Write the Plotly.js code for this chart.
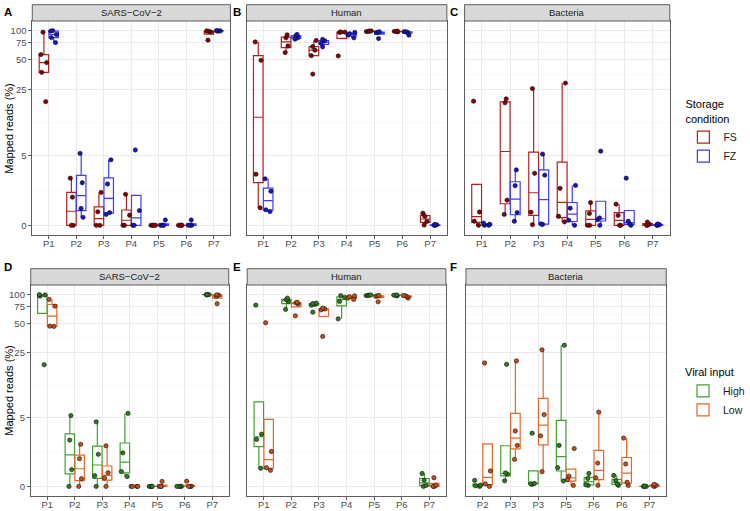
<!DOCTYPE html>
<html><head><meta charset="utf-8">
<script src="https://cdn.plot.ly/plotly-3.0.1.min.js"></script>
<style>html,body{margin:0;padding:0;background:#fff}#chart{width:750px;height:511px}</style>
</head><body><div id="chart"></div>
<script>
// ---- data (values in % mapped reads) ----
const categories = ["P1","P2","P3","P4","P5","P6","P7"];
const bacteriaViralLabels = ["P2","P3","P3","P5","P6","P6","P7"];
const yTickValues = [0,5,25,50,75,100];
const yTickLabels = ["0","5","25","50","75","100"];
const panelTitles = ["SARS\u2212CoV\u22122","Human","Bacteria","SARS\u2212CoV\u22122","Human","Bacteria"];
const panelLetters = ["A","B","C","D","E","F"];

// Storage condition (top row)
const sarsFS = [[18.6,37.3,47,56.8,96.6],[0,0,1.43,2.72],[0,0,0.65,1.72],[0,0,0.48,1.6],[0,0,0,0],[0,0,0,0],[80,97,98.5,99.5]];
const sarsFZ = [[75.5,85,91.4,99,100],[0.38,0.82,2.37,5.3],[0.52,0.61,2.28,4.5],[0,0,0.71,5.77],[0,0,0,0.25],[0,0,0,0.25],[99,99.5,99.8,100]];
const humanFS = [[0.85,3.05,49.6,76.7],[59.6,69.8,84.5,90.6],[35.8,55.4,63,68.7,79.3],[55,96,96.5,97],[98,98.5,99,99.5],[97.5,98,98.5,99],[0.01,0.18,0.42,0.58]];
const humanFZ = [[0.66,0.75,1.79,2.67],[81.9,84.5,88.6,91.5],[68.1,73.9,78.7,81.2],[84.5,90,93,96],[83,95.5,96.6,97.5],[90,96,97,98],[0,0,0.02,0.04]];
const bactFS = [[0,0.19,0.64,18.8],[0.52,1.26,18.1,19.9],[0.03,0.63,3.13,25.4],[0.16,0.43,1.98,28.9],[0,0,0.56,1.13],[0,0,0.47,1.04],[0,0,0.05,0.15]];
const bactFZ = [[0,0,0.05,0.1],[0.19,0.61,2.16,3.44],[0.04,0.06,2.97,5.2],[0,0.24,0.83,2.18],[0,0.27,0.35,5.6],[0,0.06,0.19,2.72],[0,0,0.03,0.06]];

// Viral input (bottom row)
const sarsHigh = [[18.5,96.3,99,100],[0,0.83,2.71,5.3],[0,0.52,1.7,4.5],[0.48,0.73,1.79,5.6],[0,0,0,0],[0,0,0,0],[99.5,99.7,99.9,100]];
const sarsLow = [[46.5,46.8,75.7,88.9],[0,0.37,1.43,2.38],[0,0.4,0.67,2.27],[0,0,0,0],[0,0,0,0.24],[0,0,0,0.25],[80.3,96,98.5,99.5]];
const humanHigh = [[0.9,2.77,3.22,77.6],[70,84.5,88.5,91.8],[65.5,77.5,79,80.6,81.4],[55.9,84.8,93.5,97.3],[97.5,98,98.5,99],[97,98,98.5,99],[0,0.05,0.3,0.63]];
const humanLow = [[0.79,0.93,1.88,50.8],[60,79.8,82,83],[36.6,69.3,70.7,72.1],[89,92,95,97],[84,96,97,98],[92,95,97,98],[0,0,0.05,0.42]];
const bactHigh = [[0,0.03,0.06,0.29],[0.27,0.6,0.66,18.7],[0.1,0.12,0.14,3.31],[0.26,0.93,2.3,29.6],[0.05,0.08,0.38,0.63],[0.05,0.12,0.28,0.53],[0,0,0,0.02]];
const bactLow = [[0,0.12,0.76,19.3],[1.39,2.3,3.52,20.3],[0.72,3.07,5.43,26.5],[0.05,0.33,0.5,2.08],[0.05,0.42,1.18,5.78],[0.05,0.2,1.13,2.88],[0,0.02,0.05,0.1]];

// ---- helpers ----
const tr = v => Math.asinh(v/2);   // pseudo-log transform used by the y scale
const W = 750, H = 511;
const FONT = "Liberation Sans, Arial, sans-serif";

const colFS = {line:"#B22222", mk:"#8B0000"};
const colFZ = {line:"#3D3DFF", mk:"#1414C8"};
const colHigh = {line:"#44A033", mk:"#2E7A1E"};
const colLow = {line:"#E2692A", mk:"#C84E16"};

// Tukey box statistics (R type-7 quantiles) on the transformed scale
function boxStats(vals){
  const s = vals.map(tr).sort((a,b)=>a-b);
  const q = p => { const h=(s.length-1)*p, f=Math.floor(h), c=Math.min(f+1,s.length-1); return s[f]+(h-f)*(s[c]-s[f]); };
  const q1=q(0.25), med=q(0.5), q3=q(0.75), iqr=q3-q1;
  const inL = s.filter(v=>v>=q1-1.5*iqr-1e-12), inU = s.filter(v=>v<=q3+1.5*iqr+1e-12);
  return {q1:q1, med:med, q3:q3, lf:Math.min(q1, Math.min(...inL)), uf:Math.max(q3, Math.max(...inU))};
}

function boxTraces(groups, name, col, ax, legend, showlegend){
  const st = groups.map(boxStats);
  const pos = groups.map((g,i)=>i);
  const box = {type:'box', x:pos, q1:st.map(s=>s.q1), median:st.map(s=>s.med), q3:st.map(s=>s.q3),
    lowerfence:st.map(s=>s.lf), upperfence:st.map(s=>s.uf),
    name:name, xaxis:'x'+ax, yaxis:'y'+ax, alignmentgroup:'g'+ax, offsetgroup:name,
    legend:legend, showlegend:showlegend, legendgroup:name, boxpoints:false, whiskerwidth:0,
    line:{color:col.line, width:1.2}, fillcolor:'rgba(255,255,255,0)', hoverinfo:'skip'};
  const x=[], y=[];
  groups.forEach((vals,i)=>vals.forEach(v=>{x.push(i); y.push(tr(v));}));
  const pts = {type:'box', x:x, y:y, name:name, xaxis:'x'+ax, yaxis:'y'+ax,
    alignmentgroup:'g'+ax, offsetgroup:name, showlegend:false, legend:legend,
    boxpoints:'all', jitter:0.75, pointpos:0, whiskerwidth:0,
    line:{color:'rgba(0,0,0,0)', width:0}, fillcolor:'rgba(0,0,0,0)',
    marker:{color:col.mk, size:4.3, line:{color:'#111', width:0.6}}, hoverinfo:'skip'};
  return [box, pts];
}

const pairs = [
  [boxTraces(sarsFS,'FS',colFS,'', 'legend', true), boxTraces(sarsFZ,'FZ',colFZ,'', 'legend', true)],
  [boxTraces(humanFS,'FS',colFS,'2','legend', false), boxTraces(humanFZ,'FZ',colFZ,'2','legend', false)],
  [boxTraces(bactFS,'FS',colFS,'3','legend', false), boxTraces(bactFZ,'FZ',colFZ,'3','legend', false)],
  [boxTraces(sarsHigh,'High',colHigh,'4','legend2', true), boxTraces(sarsLow,'Low',colLow,'4','legend2', true)],
  [boxTraces(humanHigh,'High',colHigh,'5','legend2', false), boxTraces(humanLow,'Low',colLow,'5','legend2', false)],
  [boxTraces(bactHigh,'High',colHigh,'6','legend2', false), boxTraces(bactLow,'Low',colLow,'6','legend2', false)]
];
const traces = [];
pairs.forEach(p=>{ traces.push(p[0][0], p[1][0]); });
pairs.forEach(p=>{ traces.push(p[0][1], p[1][1]); });

// panel geometry in pixels [left,right,top,bottom]
const panels = [
  [33.3,237.7,21,235],[254.3,461,21,235],[479.3,691,21,235],
  [31.7,236,285,496],[255,460,285,496],[480.7,687.3,285,496]
];
const stripH = 16.3;
const majorT = yTickValues.map(tr);
const minorT = [];
for(let i=0;i<majorT.length-1;i++) minorT.push((majorT[i]+majorT[i+1])/2);

const layout = {width:W, height:H, autosize:false, margin:{l:0,r:0,t:0,b:0},
  paper_bgcolor:'#fff', plot_bgcolor:'#fff', font:{family:FONT, color:'#1a1a1a'},
  boxmode:'group', boxgap:0.29, boxgroupgap:0.03,
  shapes:[], annotations:[]};

panels.forEach((p,i)=>{
  const sfx = i===0 ? '' : String(i+1);
  const xd=[p[0]/W, p[1]/W], yd=[1-p[3]/H, 1-p[2]/H];
  const first = (i===0 || i===3);
  const labels = i===5 ? bacteriaViralLabels : categories;
  layout['xaxis'+sfx] = {domain:xd, anchor:'y'+sfx, range:[-0.6,6.6],
    tickmode:'array', tickvals:categories.map((c,k)=>k), ticktext:labels,
    showgrid:true, gridcolor:'#EBEBEB', gridwidth:1, zeroline:false,
    showline:true, mirror:true, linecolor:'#4d4d4d', linewidth:0.9,
    ticks:'outside', ticklen:3, tickwidth:0.8, tickcolor:'#333', ticklabelstandoff:-3,
    tickfont:{size:9.5, color:'#4D4D4D', family:FONT}, fixedrange:true};
  layout['yaxis'+sfx] = {domain:yd, anchor:'x'+sfx, range:[-0.23,4.835],
    tickmode:'array', tickvals:majorT, ticktext:yTickLabels,
    showticklabels:first, ticks: first ? 'outside' : '', ticklen:3, tickwidth:0.8, tickcolor:'#333',
    showgrid:true, gridcolor:'#EBEBEB', gridwidth:1, zeroline:false,
    minor:{tickmode:'array', tickvals:minorT, showgrid:true, gridcolor:'#F3F3F3', gridwidth:0.6, ticks:''},
    showline:true, mirror:true, linecolor:'#4d4d4d', linewidth:0.9,
    tickfont:{size:9.5, color:'#4D4D4D', family:FONT}, fixedrange:true};
  // strip header
  layout.shapes.push({type:'rect', xref:'paper', yref:'paper', x0:xd[0], x1:xd[1],
    y0:yd[1], y1:yd[1]+stripH/H, fillcolor:'#D9D9D9', line:{color:'#4d4d4d', width:0.9}, layer:'above'});
  layout.annotations.push({xref:'paper', yref:'paper', x:(xd[0]+xd[1])/2, y:yd[1]+stripH/(2*H),
    text:panelTitles[i], showarrow:false, xanchor:'center', yanchor:'middle',
    font:{size:9.5, color:'#1A1A1A', family:FONT}});
});

// panel letters
const letterPos = [[8,12],[244,12],[468,12],[8,267],[244,267],[468,267]];
letterPos.forEach((lp,i)=>layout.annotations.push({xref:'paper', yref:'paper', x:lp[0]/W, y:1-lp[1]/H,
  text:'<b>'+panelLetters[i]+'</b>', showarrow:false, xanchor:'center', yanchor:'middle',
  font:{size:11.5, color:'#000', family:FONT}}));

// y axis titles
[[128],[390]].forEach(c=>layout.annotations.push({xref:'paper', yref:'paper', x:9/W, y:1-c[0]/H,
  text:'Mapped reads (%)', textangle:-90, showarrow:false, xanchor:'center', yanchor:'middle',
  font:{size:11, color:'#000', family:FONT}}));

layout.legend = {x:705/W, xanchor:'left', y:1-94/H, yanchor:'top',
  title:{text:'Storage<br>condition', font:{size:11, color:'#000', family:FONT}},
  font:{size:10.5, color:'#1a1a1a', family:FONT}, bgcolor:'rgba(0,0,0,0)', tracegroupgap:0, itemwidth:30};
layout.legend2 = {x:705/W, xanchor:'left', y:1-362/H, yanchor:'top',
  title:{text:'Viral input', font:{size:11, color:'#000', family:FONT}},
  font:{size:10.5, color:'#1a1a1a', family:FONT}, bgcolor:'rgba(0,0,0,0)', tracegroupgap:0, itemwidth:30};

Plotly.newPlot('chart', traces, layout, {staticPlot:true, displayModeBar:false});
</script>
</body></html>
